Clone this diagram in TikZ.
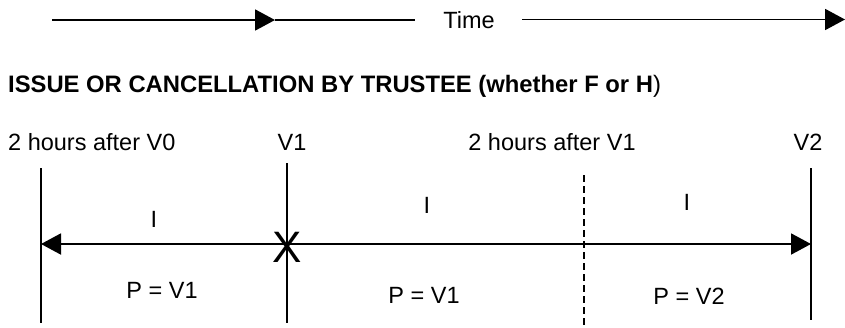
\documentclass[tikz,border=0pt]{standalone}
\usepackage{fontspec}
\setmainfont{Liberation Sans}
\usetikzlibrary{arrows.meta}
\tikzset{
  lbl/.style={inner sep=0pt, anchor=base, font=\fontsize{23.5pt}{28pt}\selectfont},
  ttl/.style={inner sep=0pt, anchor=base west, font=\fontsize{23.8pt}{28pt}\selectfont\bfseries},
  ln/.style={line width=1.9pt},
  tip/.style={-{Triangle[length=20pt,width=21pt]}},
}
\begin{document}
\begin{tikzpicture}[x=1pt,y=-1pt]
\useasboundingbox (0,0) rectangle (845,327);
% top time arrow
\coordinate (t0) at (52,20);
\coordinate (tmid) at (275,20);
\coordinate (t1) at (415,20);
\node[lbl] (time) at (469,28) {Time};
\coordinate (t2) at (522,19.5);
\coordinate (t3) at (845,19.5);
\draw[ln,tip] (t0) -- (tmid);
\draw[ln] (tmid) -- (t1);
\draw[ln,tip] (t2) -- (t3);
% title
\node[ttl] (title) at (8,92) {ISSUE OR CANCELLATION BY TRUSTEE (whether F or H\textmd{)}};
% column labels
\node[lbl, anchor=base west] (l0) at (8,150) {2 hours after V0};
\node[lbl] (l1) at (292,150) {V1};
\node[lbl] (l2) at (552,150) {2 hours after V1};
\node[lbl] (l3) at (808,150) {V2};
% vertical lines
\coordinate (a0) at (41,168); \coordinate (b0) at (41,323);
\coordinate (a1) at (287,163); \coordinate (b1) at (287,323);
\coordinate (a2) at (584,175); \coordinate (b2) at (584,327);
\coordinate (a3) at (811,168); \coordinate (b3) at (811,320);
\draw[ln] (a0) -- (b0);
\draw[ln] (a1) -- (b1);
\draw[ln, dash pattern=on 7pt off 4pt] (a2) -- (b2);
\draw[ln] (a3) -- (b3);
% main horizontal arrow
\coordinate (hl) at (41,244);
\coordinate (hr) at (811,244);
\draw[ln,{Triangle[length=20pt,width=21pt]}-{Triangle[length=20pt,width=21pt]}] (hl) -- (hr);
\node[lbl, font=\fontsize{44pt}{50pt}\selectfont] (x) at (287,262) {X};
% interval labels
\node[lbl] (i1) at (154,227) {I};
\node[lbl] (i2) at (427,213) {I};
\node[lbl] (i3) at (687,210) {I};
\node[lbl] (p1) at (162,298) {P = V1};
\node[lbl] (p2) at (424,303) {P = V1};
\node[lbl] (p3) at (689,304) {P = V2};
\end{tikzpicture}
\end{document}
